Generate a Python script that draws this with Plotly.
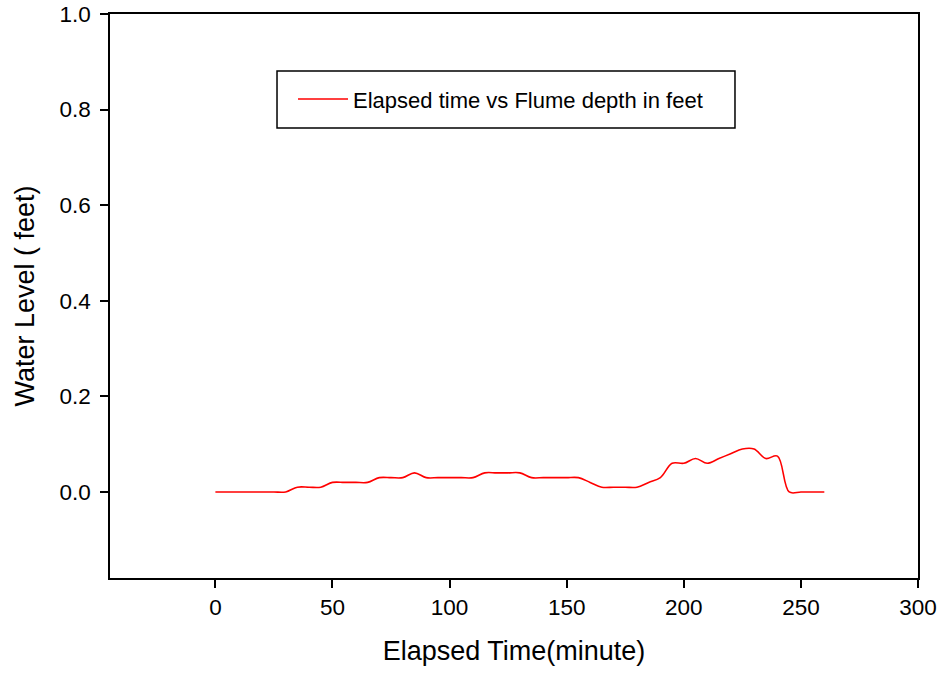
import plotly.graph_objects as go

elapsed_minutes = [0, 5, 10, 15, 20, 25, 30, 35, 40, 45, 50, 55, 60, 65, 70, 75, 80, 85, 90, 95,
                   100, 105, 110, 115, 120, 125, 130, 135, 140, 145, 150, 155, 160, 165, 170, 175,
                   180, 185, 190, 195, 200, 205, 210, 215, 220, 225, 230, 235, 240, 245, 250, 255, 260]
flume_depth_ft = [0, 0, 0, 0, 0, 0, 0, 0.01, 0.01, 0.01, 0.02, 0.02, 0.02, 0.02, 0.03, 0.03, 0.03, 0.04, 0.03, 0.03,
                  0.03, 0.03, 0.03, 0.04, 0.04, 0.04, 0.04, 0.03, 0.03, 0.03, 0.03, 0.03, 0.02, 0.01, 0.01, 0.01,
                  0.01, 0.02, 0.03, 0.06, 0.06, 0.07, 0.06, 0.07, 0.08, 0.09, 0.09, 0.07, 0.075, 0.0, 0.0, 0.0, 0.0]

x_ticks = [0, 50, 100, 150, 200, 250, 300]
y_ticks = [0.0, 0.2, 0.4, 0.6, 0.8, 1.0]

FONT = "Liberation Sans, Arial, sans-serif"

fig = go.Figure()
fig.add_trace(go.Scatter(
    x=elapsed_minutes, y=flume_depth_ft, mode="lines",
    line=dict(color="#ff0000", width=1.6, shape="spline", smoothing=1.0),
    name="Elapsed time vs Flume depth in feet",
))

axis_common = dict(showline=True, linecolor="black", linewidth=1.5, mirror=True,
                   ticks="outside", ticklen=8, tickwidth=1.5, tickcolor="black",
                   showgrid=False, zeroline=False, automargin=False,
                   ticklabeloverflow="allow",
                   tickfont=dict(family=FONT, size=22.5, color="black"))

fig.update_xaxes(range=[-45, 300], tickvals=x_ticks,
                 title=dict(text="Elapsed Time(minute)", font=dict(family=FONT, size=27, color="black"), standoff=22),
                 **axis_common)
fig.update_yaxes(range=[-0.18, 1.0], tickvals=y_ticks, tickformat=".1f", ticklabelstandoff=5,
                 title=dict(text="Water Level ( feet)", font=dict(family=FONT, size=27, color="black"), standoff=17),
                 **axis_common)

# legend frame (decoration, in paper coordinates)
fig.add_shape(type="rect", xref="paper", yref="paper",
              x0=0.2067, x1=0.7735, y0=0.7979, y1=0.8989,
              line=dict(color="black", width=1.5), fillcolor="white", layer="below")

fig.update_layout(
    width=940, height=677,
    margin=dict(l=110, r=22, t=14, b=99),
    plot_bgcolor="white", paper_bgcolor="white",
    showlegend=True,
    legend=dict(x=0.2265, y=0.849, xanchor="left", yanchor="middle",
                borderwidth=0, bgcolor="rgba(0,0,0,0)",
                font=dict(family=FONT, size=22, color="black"),
                itemwidth=50),
    font=dict(family=FONT),
)

fig.write_html("out.html", config={"displayModeBar": False},
               post_script="document.body.style.margin='0';document.body.style.overflow='hidden';")
